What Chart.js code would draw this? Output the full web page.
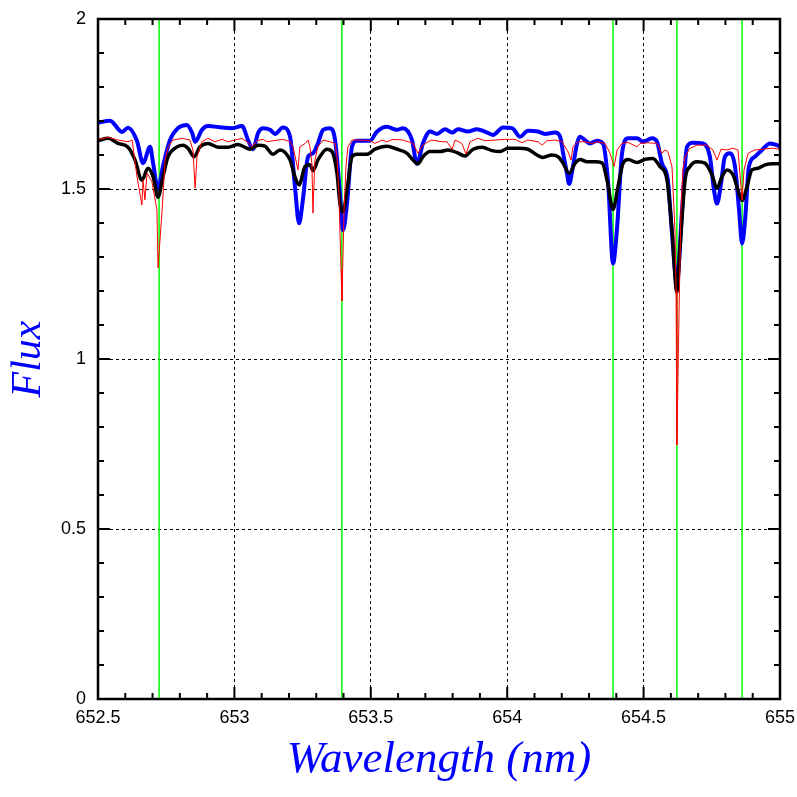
<!DOCTYPE html>
<html>
<head>
<meta charset="utf-8">
<script src="https://cdn.jsdelivr.net/npm/chart.js@4/dist/chart.umd.min.js"></script>
<style>
  body { margin: 0; background: #fff; }
</style>
</head>
<body>
<canvas id="myChart" width="797" height="797"></canvas>
<script>
// blue spectrum
const blueWl = [652.500, 652.544, 652.588, 652.610, 652.643, 652.665, 652.691, 652.702, 652.720, 652.738,
  652.764, 652.793, 652.826, 652.845, 652.856, 652.881, 652.903, 652.955, 652.991, 653.028,
  653.050, 653.068, 653.087, 653.105, 653.131, 653.149, 653.178, 653.204, 653.222, 653.237,
  653.251, 653.270, 653.288, 653.306, 653.325, 653.350, 653.369, 653.387, 653.398, 653.413,
  653.431, 653.449, 653.497, 653.523, 653.559, 653.596, 653.618, 653.651, 653.669, 653.691,
  653.717, 653.743, 653.772, 653.798, 653.820, 653.856, 653.889, 653.919, 653.948, 653.985,
  654.018, 654.047, 654.076, 654.113, 654.139, 654.175, 654.194, 654.205, 654.219, 654.227,
  654.241, 654.256, 654.267, 654.285, 654.304, 654.329, 654.351, 654.370, 654.388, 654.403,
  654.421, 654.443, 654.476, 654.498, 654.531, 654.549, 654.567, 654.589, 654.604, 654.622,
  654.641, 654.659, 654.681, 654.718, 654.743, 654.758, 654.769, 654.784, 654.798, 654.817,
  654.835, 654.850, 654.861, 654.872, 654.886, 654.908, 654.934, 654.963, 654.989, 655.000];
const blueFlux = [1.695, 1.701, 1.668, 1.680, 1.641, 1.576, 1.624, 1.576, 1.500, 1.566,
  1.644, 1.679, 1.688, 1.665, 1.639, 1.674, 1.685, 1.681, 1.679, 1.685,
  1.644, 1.617, 1.665, 1.679, 1.674, 1.662, 1.681, 1.654, 1.507, 1.399,
  1.468, 1.595, 1.605, 1.634, 1.674, 1.679, 1.644, 1.487, 1.379, 1.459,
  1.624, 1.642, 1.642, 1.669, 1.683, 1.674, 1.679, 1.644, 1.574, 1.634,
  1.669, 1.662, 1.676, 1.666, 1.676, 1.669, 1.676, 1.669, 1.659, 1.681,
  1.679, 1.654, 1.671, 1.669, 1.662, 1.666, 1.654, 1.605, 1.546, 1.515,
  1.566, 1.634, 1.654, 1.644, 1.634, 1.642, 1.634, 1.517, 1.281, 1.389,
  1.605, 1.649, 1.649, 1.639, 1.649, 1.639, 1.576, 1.526, 1.370, 1.224,
  1.438, 1.624, 1.636, 1.634, 1.595, 1.497, 1.457, 1.517, 1.595, 1.605,
  1.566, 1.438, 1.340, 1.409, 1.566, 1.595, 1.615, 1.634, 1.629, 1.624];

// black spectrum
const blackWl = [652.500, 652.537, 652.573, 652.610, 652.636, 652.661, 652.683, 652.702, 652.720, 652.738,
  652.757, 652.790, 652.812, 652.830, 652.852, 652.874, 652.903, 652.940, 652.977, 653.013,
  653.057, 653.087, 653.112, 653.142, 653.167, 653.204, 653.222, 653.237, 653.259, 653.277,
  653.288, 653.306, 653.339, 653.358, 653.376, 653.387, 653.398, 653.413, 653.431, 653.449,
  653.486, 653.515, 653.559, 653.596, 653.633, 653.655, 653.673, 653.691, 653.717, 653.754,
  653.783, 653.816, 653.845, 653.875, 653.908, 653.944, 653.974, 654.003, 654.040, 654.076,
  654.109, 654.131, 654.164, 654.186, 654.205, 654.227, 654.249, 654.267, 654.293, 654.322,
  654.348, 654.366, 654.388, 654.406, 654.425, 654.443, 654.476, 654.505, 654.534, 654.560,
  654.586, 654.604, 654.622, 654.633, 654.652, 654.670, 654.696, 654.725, 654.751, 654.769,
  654.787, 654.806, 654.828, 654.846, 654.861, 654.879, 654.897, 654.919, 654.945, 654.974, 655.000];
const blackFlux = [1.642, 1.649, 1.634, 1.623, 1.585, 1.526, 1.561, 1.536, 1.476, 1.536,
  1.595, 1.624, 1.629, 1.620, 1.595, 1.624, 1.634, 1.623, 1.623, 1.631,
  1.617, 1.629, 1.626, 1.602, 1.615, 1.585, 1.536, 1.512, 1.566, 1.571,
  1.554, 1.585, 1.617, 1.610, 1.546, 1.457, 1.433, 1.497, 1.595, 1.602,
  1.602, 1.617, 1.626, 1.617, 1.605, 1.585, 1.574, 1.595, 1.610, 1.610,
  1.615, 1.607, 1.597, 1.617, 1.623, 1.613, 1.610, 1.620, 1.620, 1.617,
  1.600, 1.593, 1.600, 1.595, 1.576, 1.546, 1.576, 1.587, 1.580, 1.580,
  1.577, 1.526, 1.440, 1.507, 1.576, 1.587, 1.578, 1.587, 1.590, 1.566,
  1.526, 1.379, 1.197, 1.321, 1.526, 1.566, 1.580, 1.576, 1.541, 1.502,
  1.536, 1.556, 1.541, 1.497, 1.466, 1.507, 1.556, 1.561, 1.571, 1.574, 1.574];

// red spectrum (thin)
const redWl = [652.500, 652.537, 652.573, 652.610, 652.625, 652.643, 652.661, 652.665, 652.672, 652.680,
  652.698, 652.716, 652.720, 652.735, 652.746, 652.757, 652.775, 652.808, 652.837, 652.848,
  652.856, 652.863, 652.881, 652.903, 652.929, 652.955, 652.977, 653.002, 653.028, 653.050,
  653.065, 653.083, 653.105, 653.120, 653.142, 653.178, 653.204, 653.215, 653.233, 653.240,
  653.259, 653.270, 653.277, 653.284, 653.288, 653.295, 653.306, 653.325, 653.350, 653.369,
  653.376, 653.383, 653.391, 653.394, 653.402, 653.409, 653.416, 653.431, 653.460, 653.497,
  653.515, 653.541, 653.559, 653.581, 653.618, 653.655, 653.673, 653.691, 653.710, 653.724,
  653.761, 653.779, 653.798, 653.809, 653.834, 653.849, 653.864, 653.893, 653.919, 653.955,
  653.992, 654.029, 654.054, 654.076, 654.113, 654.128, 654.146, 654.175, 654.201, 654.212,
  654.223, 654.234, 654.241, 654.260, 654.285, 654.311, 654.329, 654.359, 654.377, 654.392,
  654.403, 654.421, 654.443, 654.476, 654.487, 654.516, 654.549, 654.567, 654.578, 654.589,
  654.604, 654.615, 654.619, 654.622, 654.630, 654.637, 654.644, 654.652, 654.670, 654.696,
  654.732, 654.754, 654.769, 654.784, 654.806, 654.828, 654.846, 654.857, 654.861, 654.868,
  654.883, 654.908, 654.938, 654.971, 655.000];
const redFlux = [1.646, 1.652, 1.644, 1.639, 1.644, 1.536, 1.453, 1.526, 1.468, 1.547,
  1.521, 1.438, 1.268, 1.438, 1.585, 1.624, 1.644, 1.649, 1.644, 1.615,
  1.503, 1.595, 1.639, 1.649, 1.639, 1.646, 1.639, 1.644, 1.649, 1.636,
  1.624, 1.642, 1.646, 1.639, 1.642, 1.646, 1.639, 1.624, 1.556, 1.624,
  1.634, 1.644, 1.624, 1.576, 1.429, 1.585, 1.624, 1.644, 1.639, 1.634,
  1.595, 1.487, 1.262, 1.171, 1.438, 1.566, 1.624, 1.644, 1.644, 1.642,
  1.634, 1.644, 1.639, 1.646, 1.644, 1.634, 1.605, 1.629, 1.639, 1.644,
  1.639, 1.639, 1.617, 1.644, 1.634, 1.603, 1.639, 1.649, 1.642, 1.644,
  1.646, 1.646, 1.636, 1.644, 1.639, 1.629, 1.642, 1.644, 1.639, 1.624,
  1.610, 1.585, 1.624, 1.639, 1.639, 1.634, 1.639, 1.634, 1.605, 1.566,
  1.615, 1.634, 1.637, 1.624, 1.634, 1.636, 1.634, 1.605, 1.615, 1.610,
  1.566, 1.379, 1.203, 0.747, 1.144, 1.438, 1.556, 1.595, 1.620, 1.629,
  1.629, 1.615, 1.585, 1.617, 1.615, 1.620, 1.615, 1.507, 1.468, 1.556,
  1.605, 1.615, 1.617, 1.620, 1.617];

// green marker lines
const lineWl = [652.724, 653.394, 654.388, 654.622, 654.861];

// axis ticks
const xTickStep = 0.5;
const yTickStep = 0.5;
const minorStep = 0.1;

function toPoints(xs, ys) {
  return xs.map(function(x, i) { return { x: x, y: ys[i] }; });
}

// plain labels: 652.5, 653, 1, 1.5 ...
function plainLabel(v) {
  return String(Math.round(v * 10) / 10);
}

let datasets = [
  { data: toPoints(blueWl, blueFlux), borderColor: "#0000ff", borderWidth: 4, order: 3,
    cubicInterpolationMode: "monotone", borderJoinStyle: "round" },
  { data: toPoints(blackWl, blackFlux), borderColor: "#000000", borderWidth: 3.5, order: 2,
    cubicInterpolationMode: "monotone", borderJoinStyle: "round" },
  { data: toPoints(redWl, redFlux), borderColor: "#ff0000", borderWidth: 1, order: 1 }
];
lineWl.forEach(function(w) {
  datasets.push({ data: [{ x: w, y: 0 }, { x: w, y: 2 }], borderColor: "#00ff00", borderWidth: 1.5, order: 4 });
});

// frame + minor ticks on all four sides
const framePlugin = {
  id: "frame",
  afterDraw(chart) {
    const ctx = chart.ctx;
    const a = chart.chartArea;
    const xs = chart.scales.x;
    const ys = chart.scales.y;
    ctx.save();
    ctx.strokeStyle = "#000";
    ctx.lineWidth = 2;
    ctx.beginPath();
    for (let i = 0; i <= 25; i++) {
      const px = xs.getPixelForValue(652.5 + i * minorStep);
      const len = i % 5 === 0 ? 12 : 6;
      ctx.moveTo(px, a.bottom); ctx.lineTo(px, a.bottom - len);
      ctx.moveTo(px, a.top); ctx.lineTo(px, a.top + len);
    }
    for (let j = 0; j <= 20; j++) {
      const py = ys.getPixelForValue(j * minorStep);
      const len = j % 5 === 0 ? 12 : 6;
      ctx.moveTo(a.left, py); ctx.lineTo(a.left + len, py);
      ctx.moveTo(a.right, py); ctx.lineTo(a.right - len, py);
    }
    ctx.stroke();
    ctx.lineWidth = 2.5;
    ctx.strokeRect(a.left, a.top, a.right - a.left, a.bottom - a.top);
    ctx.restore();
  }
};

const ctx = document.getElementById("myChart").getContext("2d");
const chart = new Chart(ctx, {
  type: "scatter",
  data: { datasets: datasets },
  options: {
    responsive: false,
    animation: false,
    devicePixelRatio: 1,
    layout: { padding: { left: 0, right: 17, top: 19, bottom: 0 } },
    elements: { point: { radius: 0 }, line: { tension: 0, fill: false } },
    datasets: { scatter: { showLine: true } },
    plugins: { legend: { display: false }, tooltip: { enabled: false } },
    scales: {
      x: {
        type: "linear",
        min: 652.5,
        max: 655,
        afterFit: function(s) { s.height = 98; s.paddingLeft = 0; s.paddingRight = 0; },
        ticks: { stepSize: xTickStep, autoSkip: false, maxRotation: 0, padding: 8, color: "#000",
          callback: plainLabel, font: { family: "Liberation Sans", size: 18 } },
        grid: { color: "#000", lineWidth: 1, drawTicks: false },
        border: { display: false, dash: [3, 3] },
        title: { display: true, text: "Wavelength (nm)", color: "#0000ff", padding: { top: 0, bottom: 10 },
          font: { family: "Liberation Serif", style: "italic", size: 45 } }
      },
      y: {
        type: "linear",
        min: 0,
        max: 2,
        afterFit: function(s) { s.width = 98; s.paddingTop = 0; s.paddingBottom = 0; },
        ticks: { stepSize: yTickStep, padding: 12, color: "#000",
          callback: plainLabel, font: { family: "Liberation Sans", size: 18 } },
        grid: { color: "#000", lineWidth: 1, drawTicks: false },
        border: { display: false, dash: [3, 3] },
        title: { display: true, text: "Flux", color: "#0000ff", padding: { top: 4, bottom: 0 },
          font: { family: "Liberation Serif", style: "italic", size: 42 } }
      }
    }
  },
  plugins: [framePlugin]
});
</script>
</body>
</html>
